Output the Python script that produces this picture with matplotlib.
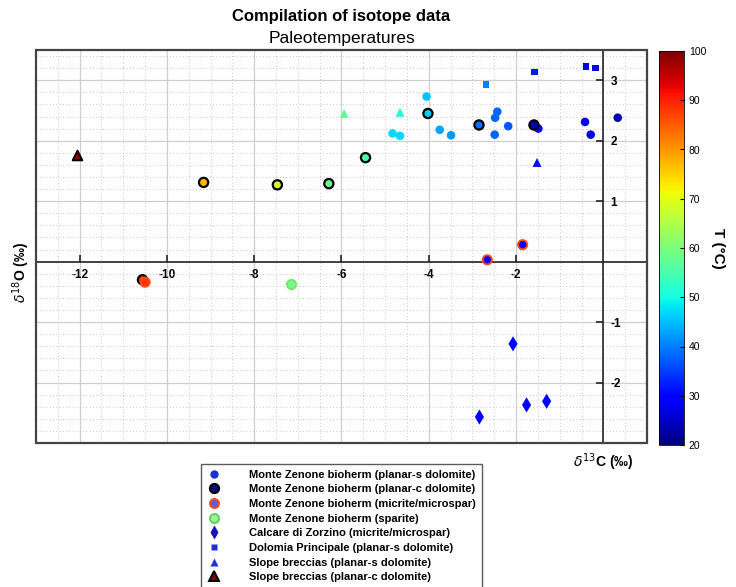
import matplotlib
matplotlib.use("Agg")
import matplotlib.pyplot as plt
from matplotlib.lines import Line2D
from matplotlib.patches import Rectangle
from matplotlib.ticker import MultipleLocator

plt.rcParams['font.family'] = ['Liberation Sans', 'DejaVu Sans']
plt.rcParams['axes.unicode_minus'] = False

# Monte Zenone bioherm (planar-s dolomite)
mz_s_x = [-4.83, -4.66, -4.05, -3.75, -3.49, -2.43, -2.48, -2.49, -2.18, -1.49, -0.42, -0.29, 0.33]
mz_s_y = [2.12, 2.08, 2.73, 2.18, 2.09, 2.48, 2.38, 2.10, 2.24, 2.20, 2.31, 2.10, 2.38]
mz_s_t = [47, 47, 45, 43, 42, 38, 38, 38, 37, 30, 28, 27, 24]

# Monte Zenone bioherm (planar-c dolomite)
mz_c_x = [-10.56, -9.16, -7.47, -6.29, -5.45, -4.02, -2.85, -1.59]
mz_c_y = [-0.30, 1.31, 1.27, 1.29, 1.72, 2.45, 2.26, 2.26]
mz_c_t = [88, 77, 68, 58, 55, 46, 39, 24]

# Monte Zenone bioherm (micrite/microspar)
mz_m_x = [-10.50, -1.85, -2.66]
mz_m_y = [-0.34, 0.28, 0.03]
mz_m_t = [88, 29, 29]

# Monte Zenone bioherm (sparite)
mz_sp_x = [-7.16]
mz_sp_y = [-0.37]
mz_sp_t = [59]

# Calcare di Zorzino (micrite/microspar)
cz_x = [-2.07, -2.84, -1.76, -1.30]
cz_y = [-1.36, -2.57, -2.37, -2.31]
cz_t = [29, 29, 29, 29]

# Dolomia Principale (planar-s dolomite)
dp_x = [-2.69, -1.58, -0.40, -0.18]
dp_y = [2.93, 3.14, 3.23, 3.20]
dp_t = [40, 32, 27, 27]

# Slope breccias (planar-s dolomite)
sb_s_x = [-5.94, -4.66, -1.52]
sb_s_y = [2.45, 2.47, 1.64]
sb_s_t = [57, 51, 31]

# Slope breccias (planar-c dolomite)
sb_c_x = [-12.06]
sb_c_y = [1.77]
sb_c_t = [99]

legend_labels = [
    "Monte Zenone bioherm (planar-s dolomite)",
    "Monte Zenone bioherm (planar-c dolomite)",
    "Monte Zenone bioherm (micrite/microspar)",
    "Monte Zenone bioherm (sparite)",
    "Calcare di Zorzino (micrite/microspar)",
    "Dolomia Principale (planar-s dolomite)",
    "Slope breccias (planar-s dolomite)",
    "Slope breccias (planar-c dolomite)",
]

W, H = 736, 587
fig = plt.figure(figsize=(W / 100, H / 100), dpi=100)
ax = fig.add_axes([36 / W, 1 - 443 / H, 611 / W, 393 / H])

kw = dict(cmap='jet', vmin=20, vmax=100, zorder=5)
ax.scatter(mz_s_x, mz_s_y, c=mz_s_t, marker='o', s=38, edgecolors='none', **kw)
ax.scatter(mz_c_x, mz_c_y, c=mz_c_t, marker='o', s=44, edgecolors='black', linewidths=1.6, **kw)
ax.scatter(mz_m_x, mz_m_y, c=mz_m_t, marker='o', s=44, edgecolors='#ff4a1a', linewidths=1.4, **kw)
ax.scatter(mz_sp_x, mz_sp_y, c=mz_sp_t, marker='o', s=44, edgecolors='#80e070', linewidths=1.4, **kw)
ax.scatter(cz_x, cz_y, c=cz_t, marker='d', s=60, edgecolors='none', **kw)
ax.scatter(dp_x, dp_y, c=dp_t, marker='s', s=22, edgecolors='none', **kw)
ax.scatter(sb_s_x, sb_s_y, c=sb_s_t, marker='^', s=42, edgecolors='none', **kw)
sc = ax.scatter(sb_c_x, sb_c_y, c=sb_c_t, marker='^', s=48, edgecolors='black', linewidths=1.4, **kw)

ax.set_xlim(-13, 1)
ax.set_ylim(-3, 3.5)

# axes through the origin
ax.spines['bottom'].set_position(('data', 0))
ax.spines['right'].set_position(('data', 0))
ax.spines['top'].set_visible(False)
ax.spines['left'].set_visible(False)
for s in ('bottom', 'right'):
    ax.spines[s].set_color('#222222')
    ax.spines[s].set_linewidth(1.2)
ax.yaxis.tick_right()
ax.xaxis.tick_bottom()
ax.set_xticks([-12, -10, -8, -6, -4, -2])
ax.set_yticks([-2, -1, 1, 2, 3])
ax.xaxis.set_minor_locator(MultipleLocator(0.5))
ax.yaxis.set_minor_locator(MultipleLocator(0.2))
ax.tick_params(which='major', direction='in', length=5, width=1.2, color='#222222',
               labelsize=8.5, pad=5)
ax.tick_params(which='minor', length=0)
for lab in ax.get_xticklabels() + ax.get_yticklabels():
    lab.set_fontweight('bold')

ax.grid(which='major', color='#cfcfcf', linewidth=0.9, linestyle='-')
ax.grid(which='minor', color='#b4b4b4', linewidth=0.6, linestyle=(0, (1, 3)))
ax.set_axisbelow(True)

# box frame
ax.add_patch(Rectangle((0, 0), 1, 1, transform=ax.transAxes, fill=False,
                       edgecolor='#444444', linewidth=1.6, clip_on=False, zorder=6))

# colorbar
cax = fig.add_axes([659 / W, 1 - 445 / H, 25 / W, 394 / H])
cb = fig.colorbar(sc, cax=cax, ticks=range(20, 101, 10))
cb.outline.set_linewidth(0.6)
cax.tick_params(direction='in', length=3, labelsize=7.5)
fig.text(718 / W, 1 - 248 / H, "T (°C)", rotation=-90, ha='center', va='center',
         fontsize=11, fontweight='bold')

# titles and axis labels
fig.text(341.5 / W, 1 - 17 / H, "Compilation of isotope data", ha='center', va='center',
         fontsize=12, fontweight='bold')
fig.text(341.5 / W, 1 - 38 / H, "Paleotemperatures", ha='center', va='center', fontsize=12.5)
fig.text(603 / W, 1 - 462 / H, r"$\delta^{13}$C (‰)", ha='center', va='center',
         fontsize=10, fontweight='bold')
fig.text(21 / W, 1 - 272 / H, r"$\delta^{18}$O (‰)", ha='center', va='center',
         fontsize=10, fontweight='bold', rotation=90)

# legend
handles = [
    Line2D([], [], ls='', marker='o', ms=6, mfc='#1e2ed0', mec='none'),
    Line2D([], [], ls='', marker='o', ms=6.5, mfc='#0a0f80', mec='black', mew=1.6),
    Line2D([], [], ls='', marker='o', ms=6.5, mfc='#6a5ad0', mec='#ff4a1a', mew=1.4),
    Line2D([], [], ls='', marker='o', ms=6.5, mfc='#a0f0a0', mec='#50d850', mew=1.4),
    Line2D([], [], ls='', marker='d', ms=7, mfc='#1414b8', mec='none'),
    Line2D([], [], ls='', marker='s', ms=4.5, mfc='#1e32d2', mec='none'),
    Line2D([], [], ls='', marker='^', ms=6, mfc='#1e32dc', mec='none'),
    Line2D([], [], ls='', marker='^', ms=6.5, mfc='#800000', mec='black', mew=1.4),
]
leg = fig.legend(handles, legend_labels, loc='upper center',
                 bbox_to_anchor=(341.5 / W, 1 - 464 / H), frameon=True, fancybox=False,
                 edgecolor='#333333', fontsize=8, labelspacing=0.42, handlelength=1.2,
                 handletextpad=2.6, borderpad=0.5, borderaxespad=0)
leg.get_frame().set_linewidth(1.0)
for t in leg.get_texts():
    t.set_fontweight('bold')

fig.savefig("out.png", dpi=100)
